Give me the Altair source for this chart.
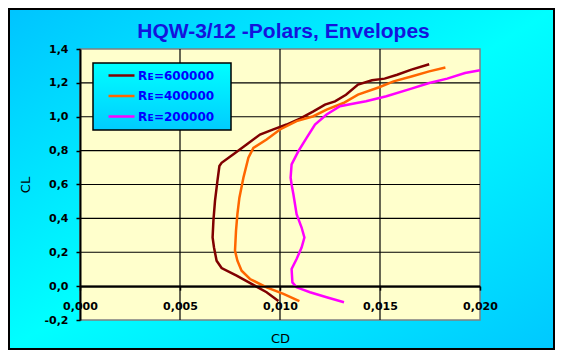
import altair as alt
import pandas as pd

# ---- data ----
series_names = ["Rᴇ=600000", "Rᴇ=400000", "Rᴇ=200000"]
series_colors = ["#800000", "#FF6600", "#FF00FF"]

cd_600 = [0.00992, 0.00933, 0.00867, 0.00783, 0.00708, 0.00683, 0.00670, 0.00663, 0.00667, 0.00675,
          0.00687, 0.00697, 0.00708, 0.00767, 0.00833, 0.00900, 0.00967, 0.01033, 0.01100, 0.01167,
          0.01225, 0.01275, 0.01330, 0.01390, 0.01460, 0.01523, 0.01586, 0.01657, 0.01746]
cl_600 = [-0.088, -0.036, 0.007, 0.062, 0.107, 0.150, 0.228, 0.287, 0.385, 0.503,
          0.620, 0.709, 0.728, 0.778, 0.836, 0.895, 0.925, 0.954, 0.989, 1.032,
          1.072, 1.091, 1.130, 1.190, 1.215, 1.225, 1.248, 1.278, 1.310]

cd_400 = [0.01097, 0.01017, 0.00933, 0.00850, 0.00808, 0.00787, 0.00775, 0.00780, 0.00787, 0.00797,
          0.00817, 0.00842, 0.00867, 0.00933, 0.01000, 0.01083, 0.01167, 0.01233, 0.01317, 0.01390,
          0.01496, 0.01568, 0.01657, 0.01746, 0.01827]
cl_400 = [-0.089, -0.046, -0.007, 0.042, 0.091, 0.150, 0.209, 0.326, 0.425, 0.522,
          0.640, 0.758, 0.816, 0.866, 0.925, 0.974, 1.003, 1.042, 1.081, 1.131,
          1.174, 1.209, 1.238, 1.268, 1.291]

cd_200 = [0.01320, 0.01233, 0.01150, 0.01083, 0.01062, 0.01058, 0.01083, 0.01108, 0.01122, 0.01108,
          0.01083, 0.01067, 0.01058, 0.01053, 0.01058, 0.01092, 0.01133, 0.01175, 0.01233, 0.01300,
          0.01383, 0.01430, 0.01532, 0.01657, 0.01746, 0.01836, 0.01925, 0.02000]
cl_200 = [-0.095, -0.066, -0.036, -0.007, 0.022, 0.101, 0.160, 0.228, 0.287, 0.346,
          0.425, 0.542, 0.600, 0.640, 0.719, 0.797, 0.875, 0.954, 1.013, 1.062,
          1.081, 1.092, 1.121, 1.166, 1.199, 1.225, 1.258, 1.275]

x_ticks = [0.000, 0.005, 0.010, 0.015, 0.020]
y_ticks = [-0.2, 0.0, 0.2, 0.4, 0.6, 0.8, 1.0, 1.2, 1.4]
x_grid = [0.005, 0.010, 0.015]
y_grid = [0.0, 0.2, 0.4, 0.6, 0.8, 1.0, 1.2]

title_text = "HQW-3/12 -Polars, Envelopes"

# ---- build table ----
rows = []
for name, cds, cls in zip(series_names, [cd_600, cd_400, cd_200], [cl_600, cl_400, cl_200]):
    for i, (a, b) in enumerate(zip(cds, cls)):
        rows.append({"series": name, "CD": a, "CL": b, "i": i})
df = pd.DataFrame(rows)

W, H = 400, 271
xscale = alt.Scale(domain=[0, 0.02], nice=False, zero=False)
yscale = alt.Scale(domain=[-0.2, 1.4], nice=False, zero=False)

x_axis = alt.Axis(
    values=x_ticks, grid=False, offset=-(H * 0.2 / 1.6), zindex=1,
    labelExpr="replace(format(datum.value, '.3f'), '.', ',')",
    domainColor="black", domainWidth=2, tickColor="black", tickSize=4, tickWidth=1.5,
    labelFont="DejaVu Sans", labelFontWeight="bold", labelFontSize=11, labelColor="black",
    labelPadding=10, labelFlush=False, labelOverlap=False,
    title="CD", titleFont="DejaVu Sans", titleFontSize=13, titleFontWeight="normal",
    titleColor="black", titleX=W / 2, titleY=56, titleAlign="center", titleBaseline="alphabetic",
)
y_axis = alt.Axis(
    values=y_ticks, grid=False, zindex=1,
    labelExpr="datum.value < -0.0001 ? '-' + replace(format(-datum.value, '.1f'), '.', ',') : replace(format(datum.value, '.1f'), '.', ',')",
    domainColor="black", domainWidth=2, tickColor="black", tickSize=4, tickWidth=1.5,
    labelFont="DejaVu Sans", labelFontWeight="bold", labelFontSize=11, labelColor="black",
    labelPadding=8, labelFlush=False, labelOverlap=False,
    title="CL", titleFont="DejaVu Sans", titleFontSize=13, titleFontWeight="normal",
    titleColor="black", titleX=-55, titleY=H / 2, titleAngle=270, titleAlign="center",
    titleBaseline="middle",
)

one = alt.Data(values=[{}])

frame = alt.Chart(one).mark_rect(
    fill=alt.Gradient(gradient="linear", x1=0, y1=0, x2=1, y2=1,
                      stops=[alt.GradientStop(color="#00C4FF", offset=0),
                             alt.GradientStop(color="#00FFFF", offset=0.5),
                             alt.GradientStop(color="#00C8FF", offset=1)]),
    stroke="black", strokeWidth=2,
).encode(x=alt.value(-71), x2=alt.value(474), y=alt.value(-40), y2=alt.value(300))

plot_bg = alt.Chart(one).mark_rect(fill="#FFFFCC", stroke="#808080", strokeWidth=1.5).encode(
    x=alt.value(0), x2=alt.value(W), y=alt.value(0), y2=alt.value(H))

vgrid = alt.Chart(pd.DataFrame({"v": x_grid})).mark_rule(color="black", strokeWidth=1.2).encode(
    x=alt.X("v:Q", scale=xscale, axis=x_axis))
hgrid = alt.Chart(pd.DataFrame({"v": y_grid})).mark_rule(color="black", strokeWidth=1.2).encode(
    y=alt.Y("v:Q", scale=yscale, axis=y_axis))

legend_box = alt.Chart(one).mark_rect(
    fill=alt.Gradient(gradient="linear", x1=0, y1=0, x2=0, y2=1,
                      stops=[alt.GradientStop(color="#00FFFF", offset=0),
                             alt.GradientStop(color="#00CCFF", offset=1)]),
    stroke="black", strokeWidth=1.5,
).encode(x=alt.value(13), x2=alt.value(151), y=alt.value(14), y2=alt.value(81))

lines = alt.Chart(df).mark_line(strokeWidth=2.5).encode(
    x=alt.X("CD:Q", scale=xscale, axis=x_axis),
    y=alt.Y("CL:Q", scale=yscale, axis=y_axis),
    color=alt.Color("series:N", scale=alt.Scale(domain=series_names, range=series_colors),
                    sort=series_names,
                    legend=alt.Legend(orient="none", legendX=25, legendY=10, padding=5,
                                      title=None, symbolType="M-1.3,0H1.3", symbolSize=400,
                                      symbolStrokeWidth=2.5, rowPadding=2.5, labelOffset=5,
                                      labelFont="DejaVu Sans", labelFontWeight="bold",
                                      labelFontSize=12, labelColor="#0000FF")),
    order="i:Q",
    detail="series:N",
)

chart = alt.layer(frame, plot_bg, vgrid, hgrid, legend_box, lines).properties(
    width=W, height=H,
    title=alt.TitleParams(title_text, font="Liberation Sans", fontSize=21, fontWeight="bold",
                          color="#1414DC", anchor="middle", frame="group", offset=7, dx=3.5,
                          baseline="alphabetic", dy=58),
    padding={"left": 72, "top": 41, "right": 75, "bottom": 30},
    autosize=alt.AutoSizeParams(type="none"),
).configure_view(stroke=None, fill=None).configure(background="white")

chart.save("out.html", embed_options={"renderer": "svg", "actions": False})
